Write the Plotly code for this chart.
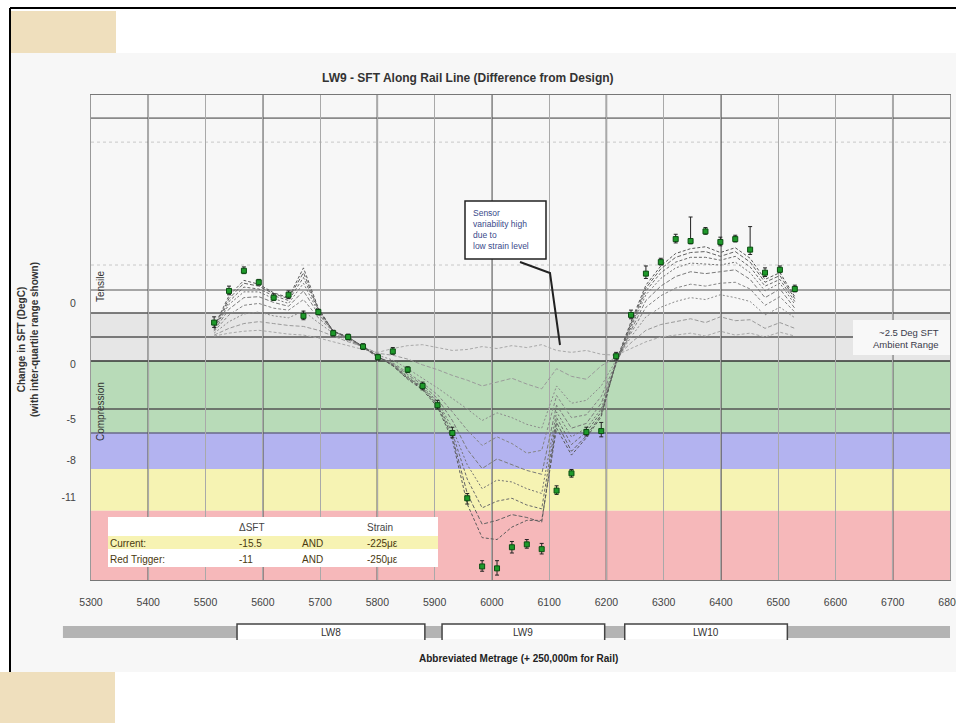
import plotly.graph_objects as go

# ---------------- data ----------------
metrage = [5515, 5541, 5567, 5593, 5619, 5645, 5671, 5697, 5723, 5749,
           5775, 5801, 5827, 5853, 5879, 5905, 5931, 5957, 5983, 6009,
           6035, 6061, 6087, 6113, 6139, 6165, 6191, 6217, 6243, 6269,
           6295, 6321, 6347, 6373, 6399, 6425, 6451, 6477, 6503, 6529]

current_sft = [4.0, 7.3, 9.4, 8.2, 6.6, 6.9, 4.7, 5.1, 2.9, 2.5,
               1.5, 0.4, 1.0, -0.9, -2.6, -4.6, -7.5, -14.3, -21.4, -21.6,
               -19.4, -19.1, -19.6, -13.5, -11.7, -7.4, -7.3, 0.5, 4.8, 9.1,
               10.3, 12.7, 12.5, 13.5, 12.4, 12.7, 11.6, 9.2, 9.5, 7.5]
iqr_plus = [0.6, 0.5, 0.4, 0.3, 0.4, 0.4, 0.5, 0.3, 0.3, 0.3,
            0.3, 0.3, 0.4, 0.3, 0.4, 0.5, 0.6, 0.5, 0.6, 0.8,
            0.6, 0.5, 0.6, 0.5, 0.4, 0.5, 0.9, 0.4, 0.5, 0.8,
            0.4, 0.5, 2.5, 0.4, 0.5, 0.4, 2.4, 0.5, 0.4, 0.4]
iqr_minus = [0.5, 0.4, 0.3, 0.3, 0.3, 0.4, 0.4, 0.3, 0.3, 0.3,
             0.3, 0.3, 0.3, 0.3, 0.4, 0.4, 0.5, 0.6, 0.5, 0.7,
             0.6, 0.4, 0.5, 0.4, 0.4, 0.4, 0.6, 0.4, 0.4, 0.5,
             0.3, 0.4, 0.3, 0.3, 0.4, 0.3, 0.5, 0.4, 0.3, 0.3]

hist_1 = [2.6, 2.9, 3.1, 3.2, 3.0, 2.8, 2.7, 2.4, 2.0, 1.6, 1.2, 0.9, 1.3, 1.6, 1.7, 1.4, 1.1, 1.2, 1.5, 1.3,
          1.6, 1.4, 1.7, 1.1, 0.9, 1.1, 0.7, 0.6, 1.3, 2.0, 2.5, 2.7, 2.9, 2.6, 3.1, 2.7, 2.9, 2.5, 3.0, 2.6]
hist_2 = [2.7, 3.4, 3.9, 4.1, 3.9, 3.7, 3.6, 3.2, 2.6, 2.0, 1.5, 0.8, 0.6, 0.2, -0.4, -0.9, -1.5, -2.0, -2.6, -2.2,
          -1.8, -2.4, -2.9, -0.8, -1.6, -1.9, -0.5, 0.4, 1.9, 3.2, 3.8, 4.1, 4.4, 4.0, 4.6, 4.2, 4.3, 3.4, 4.0, 3.4]
hist_3 = [2.9, 4.1, 4.9, 5.1, 4.7, 4.5, 5.2, 4.0, 2.9, 2.2, 1.4, 0.6, 0.1, -0.8, -1.8, -2.8, -3.9, -5.0, -6.2, -5.4,
          -5.9, -6.6, -7.0, -2.6, -4.4, -4.1, -2.6, 0.1, 2.5, 4.6, 5.6, 6.2, 6.6, 6.4, 6.9, 6.6, 6.2, 4.8, 5.6, 4.5]
hist_4 = [3.1, 4.8, 5.8, 6.0, 5.5, 5.3, 6.4, 4.5, 3.1, 2.3, 1.4, 0.4, -0.2, -1.2, -2.3, -3.5, -5.3, -7.2, -8.8, -7.9,
          -8.6, -9.6, -9.3, -3.6, -5.9, -5.6, -3.7, -0.1, 2.9, 5.6, 6.8, 7.6, 8.0, 7.8, 8.1, 8.2, 7.5, 5.8, 6.7, 5.1]
hist_5 = [3.2, 5.4, 6.6, 6.7, 6.1, 5.7, 7.3, 4.9, 3.1, 2.4, 1.4, 0.4, -0.3, -1.4, -2.5, -3.9, -6.2, -9.2, -11.2, -10.2,
          -10.8, -11.4, -11.8, -4.6, -7.0, -6.5, -4.4, -0.3, 3.2, 6.3, 7.8, 8.8, 9.3, 9.1, 9.3, 9.5, 8.5, 6.6, 7.5, 5.5]
hist_6 = [3.3, 5.9, 7.2, 7.2, 6.5, 6.0, 8.1, 5.1, 3.1, 2.4, 1.5, 0.4, -0.4, -1.6, -2.7, -4.2, -7.0, -10.8, -13.3, -12.4,
          -12.6, -13.3, -13.8, -5.3, -7.9, -7.0, -5.0, -0.3, 3.5, 6.9, 8.6, 9.7, 10.2, 10.1, 10.0, 10.3, 9.2, 7.3, 8.1, 5.9]
hist_7 = [3.4, 6.2, 7.7, 7.5, 6.8, 6.3, 8.7, 5.3, 3.1, 2.4, 1.5, 0.5, -0.4, -1.7, -2.8, -4.4, -7.5, -12.3, -15.3, -14.6,
          -14.3, -15.0, -15.4, -5.9, -8.7, -7.4, -5.3, -0.2, 3.7, 7.3, 9.2, 10.3, 10.8, 10.8, 10.5, 10.9, 9.8, 7.8, 8.5, 6.2]
hist_8 = [3.5, 6.5, 8.1, 7.8, 7.0, 6.5, 9.2, 5.4, 3.1, 2.5, 1.5, 0.5, -0.5, -1.8, -2.9, -4.6, -7.9, -13.8, -17.0, -16.6,
          -16.0, -16.3, -16.8, -6.4, -9.4, -7.8, -5.6, -0.1, 3.9, 7.6, 9.6, 10.8, 11.3, 11.4, 10.9, 11.4, 10.3, 8.2, 8.9, 6.5]
hist_9 = [3.6, 6.8, 8.4, 8.0, 7.1, 6.6, 9.7, 5.5, 3.1, 2.5, 1.5, 0.5, -0.5, -1.9, -3.0, -4.8, -8.2, -14.9, -18.4, -18.6,
          -17.3, -16.6, -16.6, -7.0, -9.8, -8.0, -5.8, 0.0, 4.1, 7.9, 9.9, 11.2, 11.7, 11.9, 11.3, 11.8, 10.7, 8.5, 9.2, 6.7]
history = [hist_1, hist_2, hist_3, hist_4, hist_5, hist_6, hist_7, hist_8, hist_9]

x_ticks = [5300, 5400, 5500, 5600, 5700, 5800, 5900, 6000, 6100, 6200, 6300, 6400, 6500, 6600, 6700, 6800]
y_tick_vals = [6.0, -0.3, -6.1, -10.3, -14.2]
y_tick_text = ["0", "0", "-5", "-8", "-11"]

band_top = [5.0, 0.0, -7.5, -11.25, -15.6]
band_bottom = [0.0, -7.5, -11.25, -15.6, -22.8]
ref_lines = [25.3, 7.4, 5.0, 2.5, 0.0, -5.0, -7.5]
faint_lines = [22.8, 10.0]
major_verticals = [5400, 5600, 5800, 6000, 6200, 6400, 6700]

lw_names = ["LW8", "LW9", "LW10"]
lw_start = [5555, 5913, 6232]
lw_end = [5883, 6197, 6516]
gap_start = [5251, 5883, 6197, 6516]
gap_end = [5555, 5913, 6232, 6800]

table_header = ["", "ΔSFT", "", "Strain"]
table_rows = [["Current:", "-15.5", "AND", "-225με"],
              ["Red Trigger:", "-11", "AND", "-250με"]]

title_text = "LW9 - SFT Along Rail Line (Difference from Design)"
x_title = "Abbreviated Metrage (+ 250,000m for Rail)"
y_title = "Change in SFT (DegC)<br>(with inter-quartile range shown)"
callout_lines = ["Sensor", "variability high", "due to", "low strain level"]

# ---------------- geometry ----------------
W, H = 956, 723
L, R, T, B = 91, 950, 95, 580
X_RANGE = [5300, 6800]
Y_RANGE = [-22.8125, 27.7083]
FONT = "Liberation Sans, Arial, sans-serif"


def px(x):
    return (x - L) / (R - L)


def py(y):
    return (B - y) / (B - T)


def m2p(m):
    return (m - X_RANGE[0]) / (X_RANGE[1] - X_RANGE[0])


fig = go.Figure()

hist_colors = ["#a8a8a8", "#9a9a9a", "#8c8c8c", "#858585", "#7a7a7a", "#727272", "#6a6a6a", "#626262", "#5a5a5a"]
hist_dash = ["3px,2px", "4px,2px", "2px,2px", "3px,2px", "4px,2px", "2px,2px", "3px,2px", "4px,2px", "3px,2px"]
for vals, col, d in zip(history, hist_colors, hist_dash):
    fig.add_trace(go.Scatter(x=metrage, y=vals, mode="lines",
                             line=dict(color=col, width=1, dash=d),
                             hoverinfo="skip", showlegend=False))

fig.add_trace(go.Scatter(
    x=metrage, y=current_sft, mode="markers",
    marker=dict(symbol="square", size=5, color="#1e9a2a", line=dict(color="#0b4d12", width=1)),
    error_y=dict(type="data", symmetric=False, array=iqr_plus, arrayminus=iqr_minus,
                 color="#222222", thickness=1, width=2),
    showlegend=False))

shapes = []
# slide background / decorations
shapes.append(dict(type="rect", xref="paper", yref="paper", x0=px(10), x1=px(956), y0=py(53), y1=py(672),
                   fillcolor="#f7f7f7", line=dict(width=0), layer="below"))
shapes.append(dict(type="rect", xref="paper", yref="paper", x0=px(10), x1=px(116), y0=py(11), y1=py(53),
                   fillcolor="#efdfbd", line=dict(width=0), layer="below"))
shapes.append(dict(type="rect", xref="paper", yref="paper", x0=px(0), x1=px(115), y0=py(672), y1=py(723),
                   fillcolor="#efdfbd", line=dict(width=0), layer="below"))
shapes.append(dict(type="line", xref="paper", yref="paper", x0=px(10), x1=px(956), y0=py(8), y1=py(8),
                   line=dict(color="#000000", width=2)))
shapes.append(dict(type="line", xref="paper", yref="paper", x0=px(10), x1=px(10), y0=py(8), y1=py(672),
                   line=dict(color="#000000", width=2)))

# bands
band_colors = ["#e6e6e6", "#b8dbb8", "#b3b3f0", "#f6f3b3", "#f6b8ba"]
for y0, y1, c in zip(band_bottom, band_top, band_colors):
    shapes.append(dict(type="rect", xref="paper", yref="y", x0=0, x1=1, y0=y0, y1=y1,
                       fillcolor=c, line=dict(width=0), layer="below"))
for yv in faint_lines:
    shapes.append(dict(type="line", xref="paper", yref="y", x0=0, x1=1, y0=yv, y1=yv,
                       line=dict(color="#c8c8c8", width=1, dash="dot"), layer="below"))
ref_colors = ["#8a8a8a", "#8a8a8a", "#555555", "#555555", "#333333", "#555555", "#6a6a8a"]
for yv, c in zip(ref_lines, ref_colors):
    shapes.append(dict(type="line", xref="paper", yref="y", x0=0, x1=1, y0=yv, y1=yv,
                       line=dict(color=c, width=1.6), layer="below"))
for xv in major_verticals:
    shapes.append(dict(type="line", xref="x", yref="paper", x0=xv, x1=xv, y0=0, y1=1,
                       line=dict(color="#555555", width=1.5), layer="below"))

# table
shapes.append(dict(type="rect", xref="paper", yref="paper", x0=px(108), x1=px(438), y0=py(567), y1=py(517),
                   fillcolor="#ffffff", line=dict(width=0), layer="above"))
shapes.append(dict(type="rect", xref="paper", yref="paper", x0=px(108), x1=px(438), y0=py(549), y1=py(536),
                   fillcolor="#f7f3b3", line=dict(width=0), layer="above"))

# callout
shapes.append(dict(type="rect", xref="paper", yref="paper", x0=px(465), x1=px(546), y0=py(259), y1=py(201),
                   fillcolor="#ffffff", line=dict(color="#222222", width=1.5), layer="above"))
shapes.append(dict(type="path", xref="paper", yref="paper",
                   path=f"M {px(520)} {py(262)} L {px(550)} {py(273)} L {px(560)} {py(345)}",
                   line=dict(color="#222222", width=2), layer="above"))

# ambient range label box
shapes.append(dict(type="rect", xref="paper", yref="paper", x0=px(853), x1=px(950), y0=py(355), y1=py(320),
                   fillcolor="#f8f8f8", line=dict(width=0), layer="above"))

# LW panel bar
for g0, g1 in zip(gap_start, gap_end):
    shapes.append(dict(type="rect", xref="paper", yref="paper", x0=m2p(g0), x1=m2p(g1), y0=py(638), y1=py(626),
                       fillcolor="#b4b4b4", line=dict(width=0)))
for s, e in zip(lw_start, lw_end):
    shapes.append(dict(type="rect", xref="paper", yref="paper", x0=m2p(s), x1=m2p(e), y0=py(639), y1=py(624),
                       fillcolor="#ffffff", line=dict(width=0)))
    shapes.append(dict(type="path", xref="paper", yref="paper",
                       path=f"M {m2p(s)} {py(640)} L {m2p(s)} {py(624)} L {m2p(e)} {py(624)} L {m2p(e)} {py(640)}",
                       line=dict(color="#444444", width=1.5)))


def ann(text, x, y, size=10, color="#333333", xanchor="center", yanchor="middle", align="center", angle=0):
    return dict(text=text, xref="paper", yref="paper", x=px(x), y=py(y), showarrow=False,
                xanchor=xanchor, yanchor=yanchor, align=align, textangle=angle,
                font=dict(size=size, color=color, family=FONT))


annotations = []
annotations.append(ann(f"<b>{title_text}</b>", 468, 78, size=12))
annotations.append(ann(f"<b>{y_title}</b>", 28, 340, size=10, angle=-90))
annotations.append(ann(f"<b>{x_title}</b>", 518, 658, size=10, color="#222222"))
annotations.append(ann("Tensile", 100, 286, angle=-90))
annotations.append(ann("Compression", 100, 412, angle=-90))
annotations.append(ann("~2.5 Deg SFT<br>Ambient Range", 941, 338, size=9.5, color="#3a3a4a",
                       xanchor="right", align="right"))
annotations.append(ann("<br>".join(callout_lines), 471, 229, size=8.5, color="#3a4a8a",
                       xanchor="left", align="left"))

col_x = [108, 237, 300, 365]
row_y = [527, 543, 559]
for cx, txt in zip(col_x, table_header):
    if txt:
        annotations.append(ann(txt, cx, row_y[0], color="#444444", xanchor="left", align="left"))
for ry, row in zip(row_y[1:], table_rows):
    for cx, txt in zip(col_x, row):
        annotations.append(ann(txt, cx, ry, color="#4a3a10", xanchor="left", align="left"))

for name, s, e in zip(lw_names, lw_start, lw_end):
    annotations.append(dict(text=name, xref="paper", yref="paper", x=(m2p(s) + m2p(e)) / 2, y=py(632),
                            xanchor="center", yanchor="middle", showarrow=False,
                            font=dict(size=10, color="#333333", family=FONT)))

fig.update_layout(
    width=W, height=H, autosize=False,
    margin=dict(l=L, r=W - R, t=T, b=H - B, pad=0),
    paper_bgcolor="#ffffff",
    plot_bgcolor="#fafafa",
    showlegend=False,
    shapes=shapes,
    annotations=annotations,
    font=dict(family=FONT, size=10, color="#444444"),
)
fig.update_xaxes(range=X_RANGE, tickvals=x_ticks, ticktext=[str(v) for v in x_ticks],
                 showgrid=True, gridcolor="#a9a9a9", gridwidth=1, zeroline=False,
                 showline=True, linecolor="#777777", linewidth=1, mirror=True, automargin=False,
                 ticks="", ticklabelstandoff=12, ticklabeloverflow="allow",
                 tickfont=dict(size=10.5, color="#444444", family=FONT))
fig.update_yaxes(range=Y_RANGE, tickvals=y_tick_vals, ticktext=y_tick_text,
                 showgrid=False, zeroline=False, automargin=False,
                 showline=True, linecolor="#999999", linewidth=1, mirror=True,
                 ticks="", ticklabelstandoff=12, tickfont=dict(size=10.5, color="#444444", family=FONT))

fig.write_html("out.html", config={"displayModeBar": False, "responsive": False},
               post_script="document.body.style.margin='0';document.body.style.overflow='hidden';")
